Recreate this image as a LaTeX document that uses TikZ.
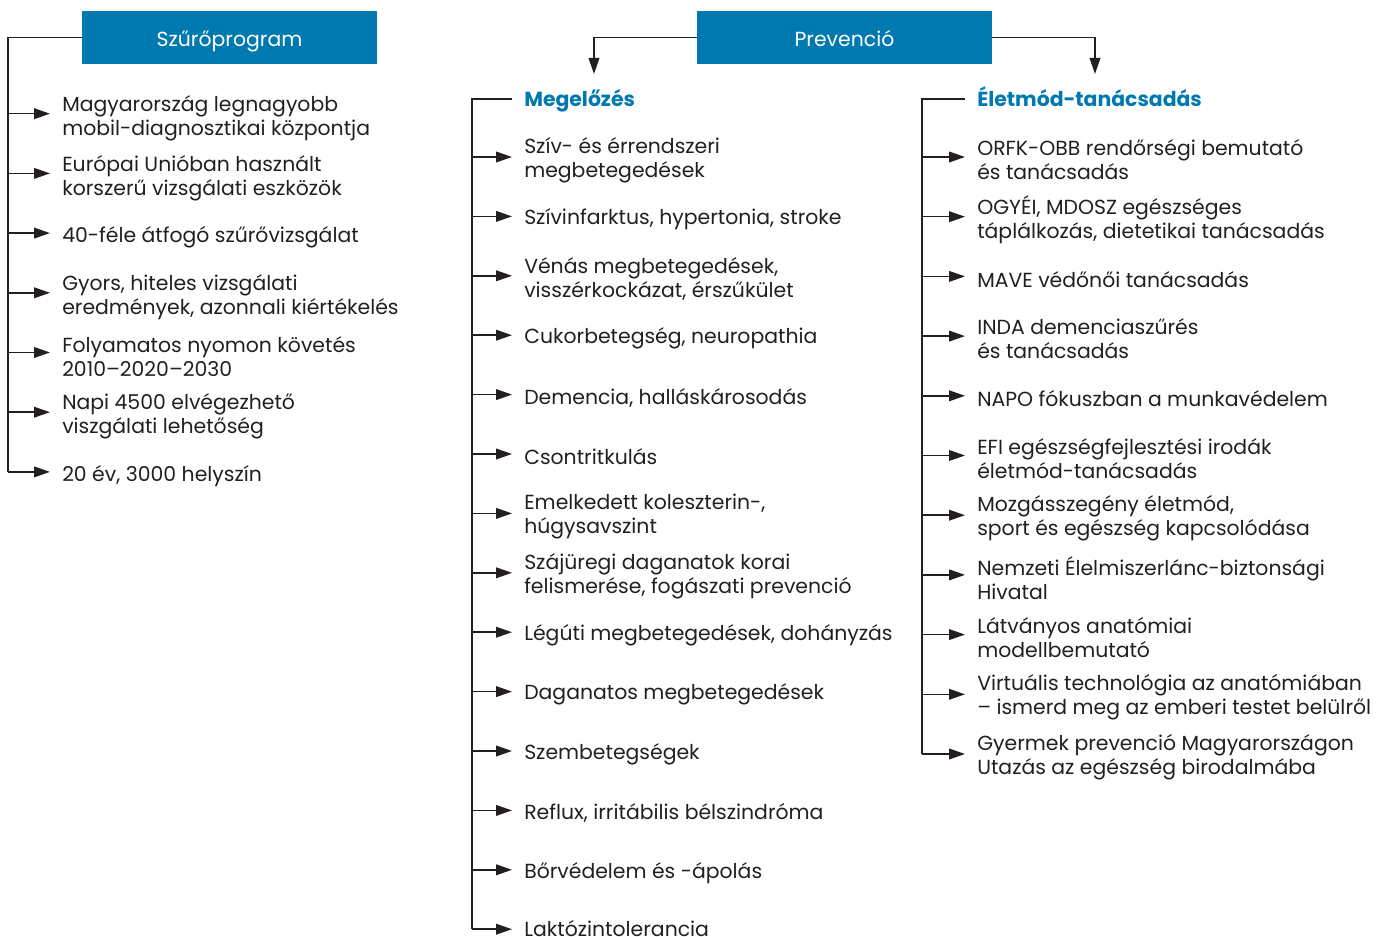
\documentclass[tikz,border=0pt]{standalone}
\usepackage{fontspec}
\setmainfont{Poppins}
\usepackage{xcolor}
\usetikzlibrary{calc}
\usetikzlibrary{arrows.meta}
\definecolor{prevblue}{RGB}{0,121,176}
\definecolor{txtgray}{RGB}{35,31,32}

\begin{document}
\begin{tikzpicture}[x=0.75pt, y=-0.75pt,
  line/.style={txtgray, line width=1.2pt},
  arr/.style={line, -{Triangle[length=12pt,width=8pt]}},
  headbox/.style={fill=prevblue, text=white, minimum width=221pt, minimum height=40pt, inner sep=0pt, text height=14pt, text depth=1.2pt, font=\fontsize{15.3}{18}\selectfont},
  item/.style={anchor=west, align=left, inner xsep=9pt, inner ysep=0pt, text=txtgray, font=\fontsize{15.3}{18}\selectfont},
  colhead/.style={anchor=west, inner xsep=9pt, inner ysep=0pt, text height=14pt, text depth=2pt, text=prevblue, font=\fontsize{15.3}{18}\selectfont\bfseries}]
\useasboundingbox (0,0) rectangle (1377,937);

% Szűrőprogram
\node[headbox] (szuro) at (229.5,37.5) {Szűrőprogram};
\coordinate (sbase) at (8,472);
\draw[line] (szuro.west) -| (sbase);
\foreach \t [count=\i, evaluate=\i as \yy using 54+59.7*\i] in {
  {Magyarország legnagyobb\\mobil-diagnosztikai központja},
  {Európai Unióban használt\\korszerű vizsgálati eszközök},
  {40-féle átfogó szűrővizsgálat},
  {Gyors, hiteles vizsgálati\\eredmények, azonnali kiértékelés},
  {Folyamatos nyomon követés\\2010–2020–2030},
  {Napi 4500 elvégezhető\\viszgálati lehetőség},
  {20 év, 3000 helyszín}} {
 \coordinate (sa\i) at (8,\yy);
 \node[item] (s\i) at (50,\yy+4.5) {\t};
 \draw[arr] (sa\i) -- (sa\i -| s\i.west);
}

% Prevenció
\node[headbox] (prev) at (844.5,37.5) {Prevenció};
\coordinate (mtip) at (594,74);
\coordinate (etip) at (1095,74);
\draw[arr] (prev.west) -| (mtip);
\draw[arr] (prev.east) -| (etip);

% Megelőzés
\node[colhead] (mhead) at (512,99) {Megelőzés};
\coordinate (mbase) at (472,929);
\draw[line] (mhead.west) -| (mbase);
\foreach \t [count=\i, evaluate=\i as \yy using 97.6+59.4*\i] in {
  {Szív- és érrendszeri\\megbetegedések},
  {Szívinfarktus, hypertonia, stroke},
  {Vénás megbetegedések,\\visszérkockázat, érszűkület},
  {Cukorbetegség, neuropathia},
  {Demencia, halláskárosodás},
  {Csontritkulás},
  {Emelkedett koleszterin-,\\húgysavszint},
  {Szájüregi daganatok korai\\felismerése, fogászati prevenció},
  {Légúti megbetegedések, dohányzás},
  {Daganatos megbetegedések},
  {Szembetegségek},
  {Reflux, irritábilis bélszindróma},
  {Bőrvédelem és -ápolás},
  {Laktózintolerancia}} {
 \pgfmathsetmacro\ty{\yy+3}
 \ifnum\i=14 \pgfmathsetmacro\ty{\yy-1}\fi
 \coordinate (ma\i) at (472,\yy);
 \node[item] (m\i) at (512,\ty) {\t};
 \draw[arr] (ma\i) -- (ma\i -| m\i.west);
}

% Életmód-tanácsadás
\node[colhead] (ehead) at (965,99) {Életmód-tanácsadás};
\coordinate (ebase) at (922,754);
\draw[line] (ehead.west) -| (ebase);
\foreach \t [count=\i, evaluate=\i as \yy using 97.3+59.7*\i] in {
  {ORFK-OBB rendőrségi bemutató\\és tanácsadás},
  {OGYÉI, MDOSZ egészséges\\táplálkozás, dietetikai tanácsadás},
  {MAVE védőnői tanácsadás},
  {INDA demenciaszűrés\\és tanácsadás},
  {NAPO fókuszban a munkavédelem},
  {EFI egészségfejlesztési irodák\\életmód-tanácsadás},
  {Mozgásszegény életmód,\\sport és egészség kapcsolódása},
  {Nemzeti Élelmiszerlánc-biztonsági\\Hivatal},
  {Látványos anatómiai\\modellbemutató},
  {Virtuális technológia az anatómiában\\– ismerd meg az emberi testet belülről},
  {Gyermek prevenció Magyarországon\\Utazás az egészség birodalmába}} {
 \coordinate (ea\i) at (922,\yy);
 \node[item] (e\i) at (965,\yy+3) {\t};
 \draw[arr] (ea\i) -- (ea\i -| e\i.west);
}
\end{tikzpicture}
\end{document}
